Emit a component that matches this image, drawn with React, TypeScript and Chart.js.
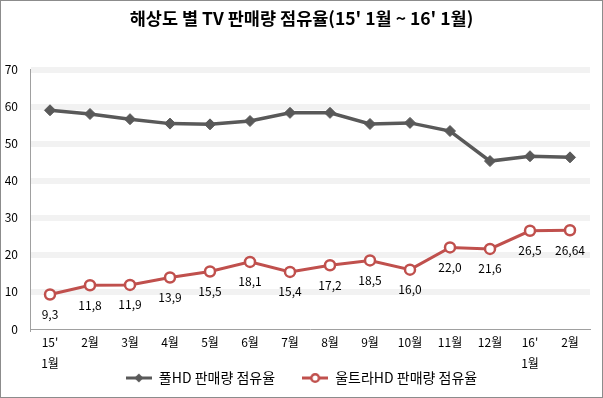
import React, { useEffect, useRef } from "react";
import { Chart, registerables } from "chart.js";
Chart.register(...registerables);

const categories: (string | string[])[] = [["15'", "1월"], "2월", "3월", "4월", "5월", "6월", "7월", "8월", "9월", "10월", "11월", "12월", ["16'", "1월"], "2월"];
const fullHD = [59.0, 58.0, 56.6, 55.4, 55.2, 56.1, 58.3, 58.3, 55.3, 55.6, 53.4, 45.3, 46.6, 46.3];
const ultraHD = [9.3, 11.8, 11.9, 13.9, 15.5, 18.1, 15.4, 17.2, 18.5, 16.0, 22.0, 21.6, 26.5, 26.64];
const ultraLabels = ["9,3", "11,8", "11,9", "13,9", "15,5", "18,1", "15,4", "17,2", "18,5", "16,0", "22,0", "21,6", "26,5", "26,64"];
const yTicks = [0, 10, 20, 30, 40, 50, 60, 70];
const seriesNames = ["풀HD 판매량 점유율", "울트라HD 판매량 점유율"];
const titleText = "해상도 별 TV 판매량 점유율(15' 1월 ~ 16' 1월)";

const FONT = "'Noto Sans CJK KR', 'Noto Sans', sans-serif";
const GRAY = "#595959";
const RED = "#C0504D";

function legendIcon(kind: "diamond" | "circle"): HTMLCanvasElement {
  const c = document.createElement("canvas");
  c.width = 26;
  c.height = 12;
  const g = c.getContext("2d")!;
  const color = kind === "diamond" ? GRAY : RED;
  g.strokeStyle = color;
  g.lineWidth = 3;
  g.beginPath();
  g.moveTo(0, 6);
  g.lineTo(26, 6);
  g.stroke();
  if (kind === "diamond") {
    g.fillStyle = GRAY;
    g.beginPath();
    g.moveTo(13, 1.5);
    g.lineTo(17.5, 6);
    g.lineTo(13, 10.5);
    g.lineTo(8.5, 6);
    g.closePath();
    g.fill();
  } else {
    g.fillStyle = "#fff";
    g.lineWidth = 2.5;
    g.beginPath();
    g.arc(13, 6, 3.8, 0, Math.PI * 2);
    g.fill();
    g.stroke();
  }
  return c;
}

const labelPlugin = {
  id: "ultraLabels",
  afterDatasetsDraw(chart: any) {
    const meta = chart.getDatasetMeta(1);
    const ctx = chart.ctx;
    ctx.save();
    ctx.font = `12px ${FONT}`;
    ctx.fillStyle = "#000";
    ctx.textAlign = "center";
    ctx.textBaseline = "middle";
    meta.data.forEach((pt: any, i: number) => {
      ctx.fillText(ultraLabels[i], pt.x, pt.y + 20);
    });
    ctx.restore();
  },
};

export default function App() {
  const ref = useRef<HTMLCanvasElement>(null);
  useEffect(() => {
    document.body.style.margin = "0";
    const icons = [legendIcon("diamond"), legendIcon("circle")];
    const chart = new Chart(ref.current!, {
      type: "line",
      data: {
        labels: categories as any,
        datasets: [
          {
            label: seriesNames[0],
            data: fullHD,
            borderColor: GRAY,
            backgroundColor: GRAY,
            borderWidth: 3.5,
            pointStyle: "rectRot",
            pointRadius: 5.5,
            pointBackgroundColor: GRAY,
            pointBorderColor: GRAY,
            pointBorderWidth: 1,
            tension: 0,
          },
          {
            label: seriesNames[1],
            data: ultraHD,
            borderColor: RED,
            backgroundColor: "#fff",
            borderWidth: 3,
            pointStyle: "circle",
            pointRadius: 5,
            pointBackgroundColor: "#fff",
            pointBorderColor: RED,
            pointBorderWidth: 2.5,
            tension: 0,
          },
        ],
      },
      options: {
        animation: false,
        responsive: false,
        devicePixelRatio: 1,
        layout: { padding: { left: 2, right: 2, top: 0, bottom: 3 } },
        plugins: {
          title: {
            display: true,
            text: titleText,
            color: "#000",
            font: { family: FONT, size: 17.5, weight: "bold" },
            padding: { top: 8, bottom: 40.5 },
          },
          legend: {
            position: "bottom",
            labels: {
              usePointStyle: true,
              pointStyleWidth: 26,
              color: "#000",
              font: { family: FONT, size: 14 },
              padding: 2,
              generateLabels: (ch: any) =>
                ch.data.datasets.map((ds: any, i: number) => ({
                  text: i === 0 ? ds.label + "        " : ds.label,
                  pointStyle: icons[i],
                  fillStyle: ds.borderColor,
                  strokeStyle: ds.borderColor,
                  lineWidth: 0,
                  hidden: false,
                  datasetIndex: i,
                  fontColor: "#000",
                })),
            },
          },
          tooltip: { enabled: false },
        },
        scales: {
          x: {
            offset: true,
            grid: { display: false, drawTicks: false },
            border: { display: true, color: "#a0a0a0", width: 1 },
            afterFit: (s: any) => {
              s.height = 40;
            },
            ticks: {
              color: "#000",
              font: { family: FONT, size: 12, lineHeight: 1.75 },
              maxRotation: 0,
              autoSkip: false,
              padding: 3,
            },
          },
          y: {
            min: 0,
            max: 70,
            afterBuildTicks: (s: any) => {
              s.ticks = yTicks.map((v) => ({ value: v }));
            },
            afterFit: (s: any) => {
              s.width = 28;
            },
            grid: {
              drawTicks: false,
              lineWidth: 6,
              color: (c: any) => (c.tick && c.tick.value === 0 ? "rgba(0,0,0,0)" : "#f2f2f2"),
            },
            border: { display: true, color: "#a0a0a0", width: 1 },
            ticks: {
              color: "#000",
              font: { family: FONT, size: 12 },
              padding: 12,
            },
          },
          yRight: {
            position: "right",
            display: true,
            min: 0,
            max: 70,
            grid: { display: false, drawTicks: false },
            border: { display: false },
            ticks: { display: false },
            afterFit: (s: any) => {
              s.width = 11;
            },
          },
        },
      },
      plugins: [labelPlugin],
    } as any);
    return () => chart.destroy();
  }, []);
  return (
    <div style={{ position: "relative", width: 603, height: 398 }}>
      <canvas ref={ref} width={603} height={398} style={{ display: "block" }} />
      <div
        style={{
          position: "absolute",
          inset: 0,
          border: "1px solid #8c8c8c",
          pointerEvents: "none",
        }}
      />
    </div>
  );
}
